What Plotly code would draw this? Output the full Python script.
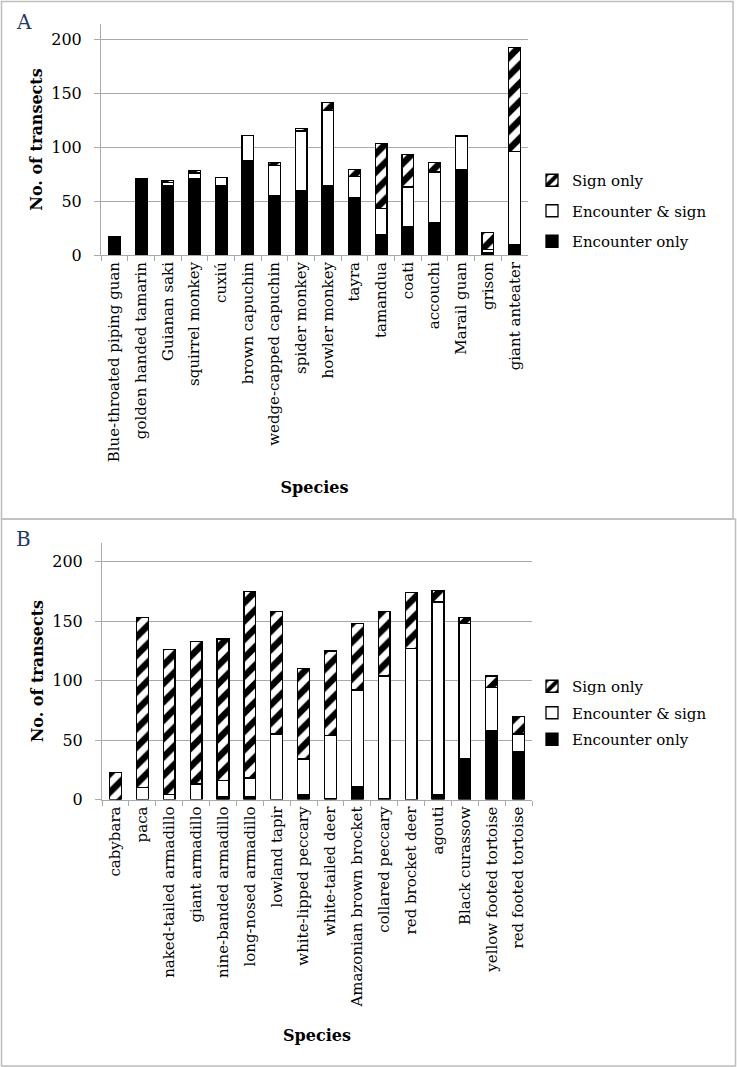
import plotly.graph_objects as go

# ---------------- Data ----------------
species_a = ["Blue-throated piping guan", "golden handed tamarin", "Guianan saki",
             "squirrel monkey", "cuxiú", "brown capuchin", "wedge-capped capuchin",
             "spider monkey", "howler monkey", "tayra", "tamandua", "coati",
             "accouchi", "Marail guan", "grison", "giant anteater"]
enc_only_a = [17, 69, 64, 71, 64, 87, 55, 60, 64, 53, 19, 26, 30, 79, 2, 10]
enc_sign_a = [0, 1, 3, 5, 8, 24, 28, 55, 70, 20, 24, 37, 47, 31, 3, 86]
sign_only_a = [0, 1, 2, 2, 0, 0, 3, 2, 7, 6, 60, 30, 9, 1, 16, 96]

species_b = ["cabybara", "paca", "naked-tailed armadillo", "giant armadillo",
             "nine-banded armadillo", "long-nosed armadillo", "lowland tapir",
             "white-lipped peccary", "white-tailed deer", "Amazonian brown brocket",
             "collared peccary", "red brocket deer", "agouti", "Black curassow",
             "yellow footed tortoise", "red footed tortoise"]
enc_only_b = [0, 0, 0, 0, 2, 2, 0, 4, 1, 11, 1, 0, 4, 34, 58, 40]
enc_sign_b = [0, 10, 4, 13, 14, 16, 55, 30, 53, 81, 103, 127, 162, 114, 36, 15]
sign_only_b = [23, 143, 122, 120, 119, 157, 103, 76, 71, 56, 54, 47, 10, 5, 10, 15]

y_ticks = [0, 50, 100, 150, 200]
series_names = ["Encounter only", "Encounter & sign", "Sign only"]

# ---------------- Styles ----------------
W, H = 737, 1067
SERIF = "DejaVu Serif"
GRID = "#a9a9a9"
OUT = dict(color="black", width=1.3)


def py(px):
    return 1 - px / H


def px_x(px):
    return px / W


fig = go.Figure()


def add_panel(cats, enc, es, sign, xa, ya, legend):
    fig.add_trace(go.Bar(x=cats, y=enc, name=series_names[0], xaxis=xa, yaxis=ya,
                         marker=dict(color="black", line=OUT), legend=legend,
                         legendgroup=legend + "1", legendrank=3))
    fig.add_trace(go.Bar(x=cats, y=es, name=series_names[1], xaxis=xa, yaxis=ya,
                         marker=dict(color="white", line=OUT), legend=legend,
                         legendgroup=legend + "2", legendrank=2))
    fig.add_trace(go.Bar(x=cats, y=sign, name=series_names[2], xaxis=xa, yaxis=ya,
                         marker=dict(color="white", line=OUT,
                                     pattern=dict(shape="/", fgcolor="#000000", bgcolor="#ffffff",
                                                  fgopacity=1, size=13, solidity=0.5,
                                                  fillmode="replace")),
                         legend=legend, legendgroup=legend + "3", legendrank=1))


add_panel(species_a, enc_only_a, enc_sign_a, sign_only_a, "x", "y", "legend")
add_panel(species_b, enc_only_b, enc_sign_b, sign_only_b, "x2", "y2", "legend2")

xcommon = dict(type="category", showgrid=False, showline=True, linecolor=GRID, linewidth=1,
               ticks="outside", tickson="boundaries", ticklen=5, tickcolor=GRID,
               tickangle=-90, tickfont=dict(family=SERIF, size=15, color="black"),
               automargin=False, fixedrange=True)
ycommon = dict(showgrid=True, gridcolor=GRID, gridwidth=1, showline=True, linecolor=GRID,
               linewidth=1, ticks="outside", ticklen=6, tickcolor=GRID, tickvals=y_ticks,
               tickfont=dict(family=SERIF, size=16, color="black"), zeroline=False,
               ticklabelstandoff=9, automargin=False, fixedrange=True)
title_font = dict(family=SERIF, size=16, color="black")

fig.update_layout(
    width=W, height=H, margin=dict(l=0, r=0, t=0, b=0),
    paper_bgcolor="white", plot_bgcolor="white",
    barmode="stack", bargap=0.56,
    showlegend=True,
    xaxis=dict(domain=[px_x(101), px_x(528)], anchor="y",
               title=dict(text="<b>Species</b>", font=title_font, standoff=20), **xcommon),
    yaxis=dict(domain=[py(255), py(24)], anchor="x", range=[0, 214],
               title=dict(text="<b>No. of transects</b>", font=title_font, standoff=4), **ycommon),
    xaxis2=dict(domain=[px_x(102), px_x(532)], anchor="y2",
                title=dict(text="<b>Species</b>", font=title_font, standoff=23), **xcommon),
    yaxis2=dict(domain=[py(799.5), py(542.7)], anchor="x2", range=[0, 216],
                title=dict(text="<b>No. of transects</b>", font=title_font, standoff=4), **ycommon),
    legend=dict(x=px_x(532), y=py(164), xanchor="left", yanchor="top",
                traceorder="grouped", tracegroupgap=8, itemwidth=30,
                font=dict(family=SERIF, size=15, color="black"), bgcolor="rgba(0,0,0,0)"),
    legend2=dict(x=px_x(532), y=py(670), xanchor="left", yanchor="top",
                 traceorder="grouped", tracegroupgap=4, itemwidth=30,
                 font=dict(family=SERIF, size=15, color="black"), bgcolor="rgba(0,0,0,0)"),
    shapes=[
        dict(type="rect", xref="paper", yref="paper", x0=px_x(1.5), x1=px_x(733),
             y0=py(519), y1=py(1.5), line=dict(color="#bdbdbd", width=1.5)),
        dict(type="rect", xref="paper", yref="paper", x0=px_x(1.5), x1=px_x(735.5),
             y0=py(1066), y1=py(519), line=dict(color="#bdbdbd", width=1.5)),
    ],
    annotations=[
        dict(text="A", x=px_x(14), y=py(22), xref="paper", yref="paper", xanchor="left",
             yanchor="middle", showarrow=False, font=dict(family=SERIF, size=20, color="#1f3864")),
        dict(text="B", x=px_x(14), y=py(539), xref="paper", yref="paper", xanchor="left",
             yanchor="middle", showarrow=False, font=dict(family=SERIF, size=20, color="#1f3864")),
    ],
)

fig.write_html("out.html", config={"displayModeBar": False},
               post_script="document.body.style.margin='0';")
